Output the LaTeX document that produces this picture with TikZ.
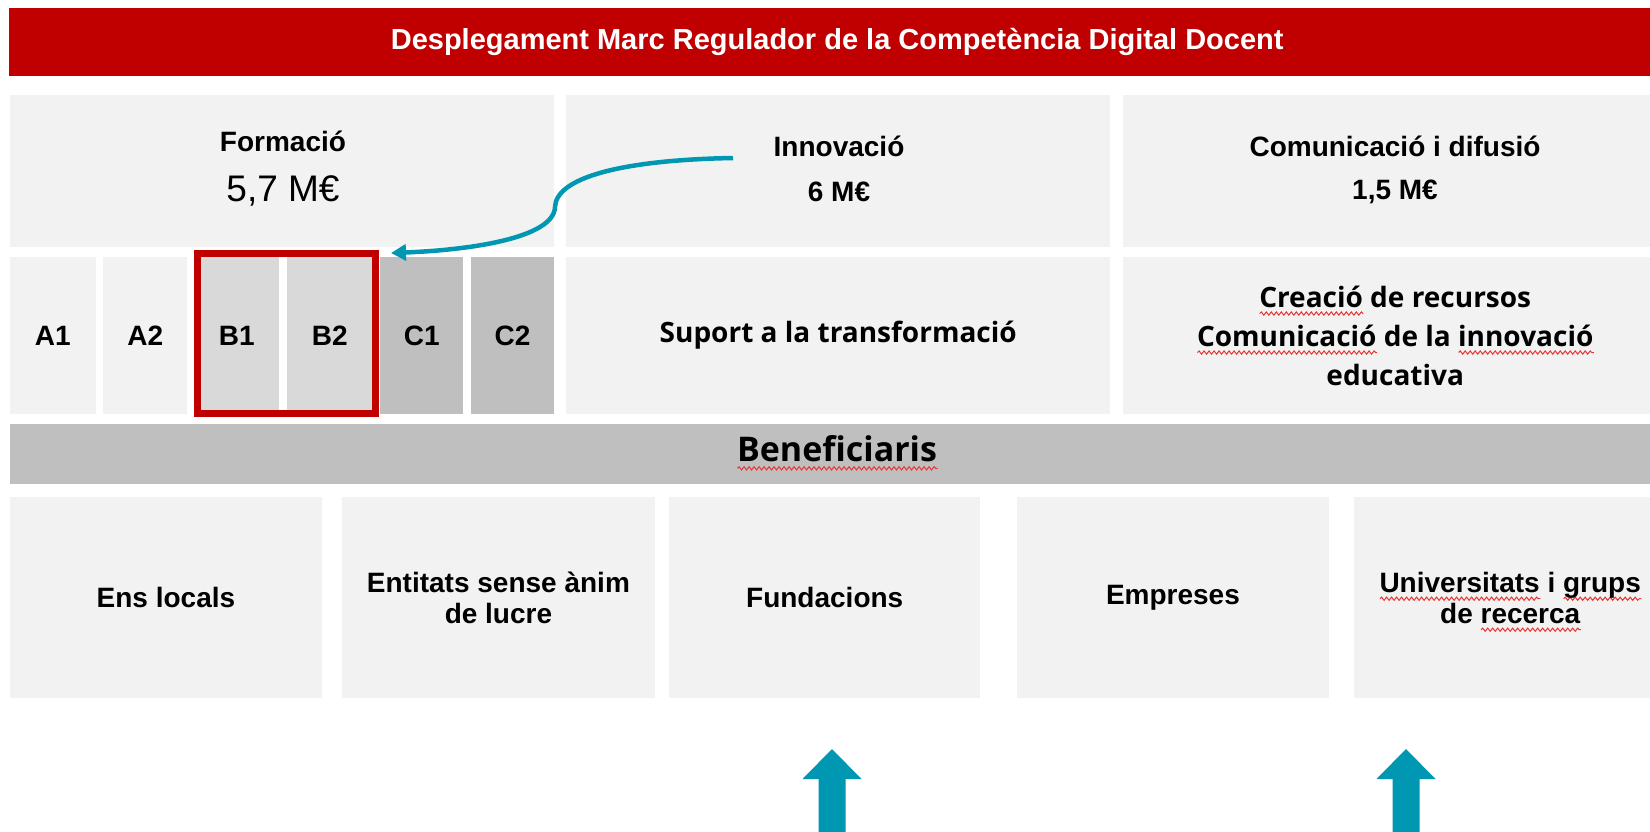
\documentclass[tikz,border=0pt]{standalone}
\usepackage{fontspec}
\setmainfont{Liberation Sans}
\newfontfamily\opensans{Open Sans}
\usetikzlibrary{arrows.meta}
\usetikzlibrary{decorations.pathmorphing}
\usetikzlibrary{positioning}

\definecolor{titlered}{RGB}{192,0,0}
\definecolor{lightbox}{RGB}{242,242,242}
\definecolor{midbox}{RGB}{217,217,217}
\definecolor{darkbox}{RGB}{191,191,191}
\definecolor{arrowteal}{RGB}{0,151,178}
\definecolor{spellred}{RGB}{235,50,50}

%wavy spell-check underline
\newlength\spellwd
\newcommand{\spellmark}[1]{\settowidth{\spellwd}{#1}\rlap{\raisebox{-6.5pt}[0pt][0pt]{\tikz[x=1pt,y=1pt,baseline=0pt]\draw[draw=spellred, fill=none, line width=1pt, decorate, decoration={snake,amplitude=1.6pt,segment length=5pt}] (0,0) -- (\spellwd,0);}}#1}

\tikzset{
	cell/.style={anchor=north west, inner sep=0pt, fill=lightbox, align=center, font=\bfseries\fontsize{28}{31}\selectfont},
	celltext/.style={inner sep=0pt, align=center, font=\bfseries\fontsize{28}{31}\selectfont},
	linkarrow/.style={draw=arrowteal, line width=4.5pt, -{Triangle[length=15pt,width=16pt]}},
}

\begin{document}
\begin{tikzpicture}[x=1pt,y=-1pt]
			\useasboundingbox (0,0) rectangle (1650,832);
			%title bar
			\node[cell, fill=titlered, text=white, font=\bfseries\fontsize{29}{32}\selectfont, minimum width=1656pt, minimum height=68pt] (title) at (9,8) {Desplegament Marc Regulador de la Competència Digital Docent};
			%budget lines
			\node[cell, minimum width=544pt, minimum height=152pt] (formacio) at (9.5,95) {};
			\node[cell, minimum width=544pt, minimum height=152pt] (innovacio) at (566,95) {};
			\node[cell, minimum width=544pt, minimum height=152pt] (comunicacio) at (1123,95) {};
			\node[celltext] (formaciotxt) at (283,141) {Formació};
			\node[celltext, font=\fontsize{37}{40}\selectfont] (formacioeur) at (283,191) {5,7 M€};
			\node[celltext] (innovaciotxt) at (839,146) {Innovació};
			\node[celltext] (innovacioeur) at (839,192) {6 M€};
			\node[celltext] (comunicaciotxt) at (1395,146) {Comunicació i difusió};
			\node[celltext] (comunicacioeur) at (1395,192) {1,5 M€};
			%actions
			\node[cell, minimum width=86pt, minimum height=156.5pt] (a1) at (9.5,257) {A1};
			\node[cell, minimum width=84pt, minimum height=156.5pt] (a2) at (103,257) {A2};
			\node[cell, fill=midbox, minimum width=85pt, minimum height=156.5pt] (b1) at (194,257) {B1};
			\node[cell, fill=midbox, minimum width=85pt, minimum height=156.5pt] (b2) at (287,257) {B2};
			\node[cell, fill=darkbox, minimum width=83pt, minimum height=156.5pt] (c1) at (380,257) {C1};
			\node[cell, fill=darkbox, minimum width=82.5pt, minimum height=156.5pt] (c2) at (471,257) {C2};
			\node[cell, font=\opensans\bfseries\fontsize{28}{31}\selectfont, minimum width=544pt, minimum height=156.5pt] (suport) at (566,257) {Suport a la transformació};
			\node[cell, font=\opensans\bfseries\fontsize{28}{39}\selectfont, minimum width=544pt, minimum height=156.5pt] (creacio) at (1123,257) {\spellmark{Creació} de recursos\\\spellmark{Comunicació} de la \spellmark{innovació}\\educativa};
			%highlight of B1 and B2
			\node[anchor=north west, draw=titlered, line width=7pt, outer sep=0pt, inner sep=0pt, minimum width=178.5pt, minimum height=159.7pt] (bframe) at (197,253.5) {};
			%beneficiaries
			\node[cell, fill=darkbox, minimum width=1656pt, minimum height=60pt] (benef) at (9.5,424) {};
			\node[celltext, font=\opensans\bfseries\fontsize{34}{38}\selectfont] (beneftxt) at (837,449) {\spellmark{Beneficiaris}};
			\node[cell, minimum width=312.5pt, minimum height=201pt] (ens) at (9.5,497) {Ens locals};
			\node[cell, minimum width=312.5pt, minimum height=201pt] (entitats) at (342,497) {Entitats sense ànim\\de lucre};
			\node[cell, minimum width=311pt, minimum height=201pt] (fundacions) at (669,497) {Fundacions};
			\node[cell, minimum width=312.5pt, minimum height=201pt] (empreses) at (1016.5,497) {Empreses};
			\node[cell, minimum width=312pt, minimum height=201pt] (univ) at (1354,497) {\spellmark{Universitats} i \spellmark{grups}\\de \spellmark{recerca}};
			%curved arrow from innovation to B
			\coordinate (arrstart) at (733,158);
			\coordinate (arrend) at (391,253);
			\draw[linkarrow] (arrstart) .. controls (620,160) and (556,178) .. (555,207) .. controls (554,238) and (470,250) .. (arrend);
			%block arrows
			\fill[arrowteal] (818.5,840) -- (818.5,779) -- (802.5,779) -- (832,749) -- (861.5,779) -- (845.5,779) -- (845.5,840) -- cycle;
			\fill[arrowteal] (1392.5,840) -- (1392.5,779) -- (1376.5,779) -- (1406,749) -- (1435.5,779) -- (1419.5,779) -- (1419.5,840) -- cycle;
		\end{tikzpicture}
\end{document}
